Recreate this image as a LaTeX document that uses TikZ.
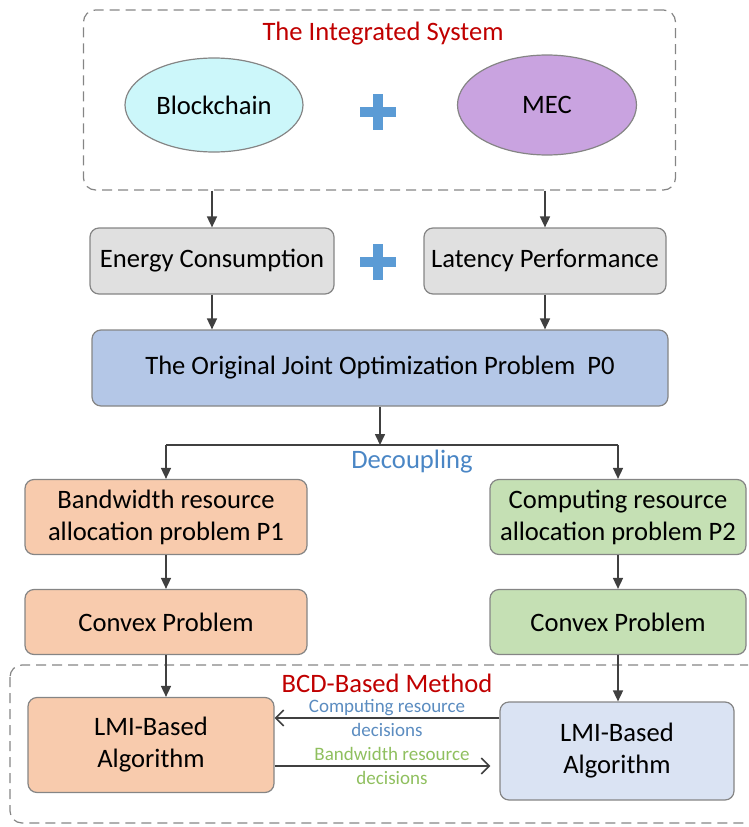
\documentclass[tikz,border=0pt]{standalone}
\usepackage{fontspec}
\setmainfont{Carlito}
\usetikzlibrary{arrows.meta,shapes.geometric}

\definecolor{edgegray}{HTML}{858585}
\definecolor{arrowgray}{HTML}{404040}
\definecolor{titlered}{HTML}{C00000}
\definecolor{plusblue}{HTML}{5B9BD5}
\definecolor{bcfill}{HTML}{CCF7FA}
\definecolor{mecfill}{HTML}{C9A3E0}
\definecolor{grayfill}{HTML}{E0E0E0}
\definecolor{pzerofill}{HTML}{B4C7E7}
\definecolor{orangefill}{HTML}{F8CBAD}
\definecolor{greenfill}{HTML}{C5E0B4}
\definecolor{lavfill}{HTML}{DAE3F3}
\definecolor{decblue}{HTML}{4A86C5}
\definecolor{compblue}{HTML}{5B8CC0}
\definecolor{bwgreen}{HTML}{8FBF5E}

\tikzset{
  bigtext/.style={font=\fontsize{26.6}{32}\selectfont},
  smalltext/.style={font=\fontsize{19}{24}\selectfont},
  label/.style={inner sep=0pt},
  box/.style={draw=edgegray, line width=1.2pt, rounded corners=9pt,
    inner sep=0pt, align=center, bigtext},
  oval/.style={ellipse, draw=edgegray, line width=1.2pt, inner sep=0pt, bigtext},
  frame/.style={draw=edgegray, line width=1.2pt, dash pattern=on 10pt off 6pt,
    rounded corners=12pt},
  arr/.style={draw=arrowgray, line width=1.6pt,
    -{Triangle[length=11pt,width=10pt]}},
  barb/.style={draw=arrowgray, line width=1.6pt,
    -{Straight Barb[length=8pt,width=16pt,line width=1.6pt]}},
  plussign/.style={draw=plusblue, line width=10pt},
}

\begin{document}
\begin{tikzpicture}[x=1pt,y=-1pt]
\useasboundingbox (0,0) rectangle (748,827);
\clip (0,0) rectangle (748,827);

% integrated system frame
\node[frame, minimum width=592pt, minimum height=180pt] (sys) at (379.5,100) {};
\node[label, bigtext, text=titlered] (systitle) at (383,34) {The Integrated System};
\node[oval, fill=bcfill, minimum width=178pt, minimum height=94pt] (bc) at (214,105) {Blockchain};
\node[oval, fill=mecfill, minimum width=179pt, minimum height=100pt] (mec) at (547,105) {MEC};
\draw[plussign] (360,112) -- (396,112) (378,94) -- (378,130);

% objectives
\node[box, fill=grayfill, minimum width=244pt, minimum height=66pt] (energy) at (212,261) {Energy Consumption};
\node[box, fill=grayfill, minimum width=242pt, minimum height=66pt] (latency) at (545,261) {Latency Performance};
\draw[plussign] (360,262) -- (396,262) (378,244) -- (378,280);

\draw[arr] (energy.north |- sys.south) -- (energy.north);
\draw[arr] (latency.north |- sys.south) -- (latency.north);

% original problem
\node[box, fill=pzerofill, minimum width=576pt, minimum height=76pt] (pzero) at (380,368) {The Original Joint Optimization Problem~~P0};
\draw[arr] (energy.south) -- (energy.south |- pzero.north);
\draw[arr] (latency.south) -- (latency.south |- pzero.north);

% decoupling into sub-problems
\node[box, fill=orangefill, minimum width=282pt, minimum height=75pt] (pone) at (166,517)
  {Bandwidth resource\\allocation problem P1};
\node[box, fill=greenfill, minimum width=256pt, minimum height=75pt] (ptwo) at (618,517)
  {Computing resource\\allocation problem P2};
\coordinate (split) at (380,445);
\draw[arr] (pzero.south) -- (split);
\draw[draw=arrowgray, line width=1.6pt] (split -| pone.north) -- (split -| ptwo.north);
\draw[arr] (split -| pone.north) -- (pone.north);
\draw[arr] (split -| ptwo.north) -- (ptwo.north);
\node[label, bigtext, text=decblue] (decoup) at (412,462) {Decoupling};

% convex reformulations
\node[box, fill=orangefill, minimum width=282pt, minimum height=65pt] (cvone) at (166,622) {Convex Problem};
\node[box, fill=greenfill, minimum width=256pt, minimum height=65pt] (cvtwo) at (618,622) {Convex Problem};
\draw[arr] (pone.south) -- (cvone.north);
\draw[arr] (ptwo.south) -- (cvtwo.north);

% BCD-based method
\draw[frame] (10,665) rectangle (764,823);
\node[label, bigtext, text=titlered] (bcdtitle) at (387,683) {BCD-Based Method};
\node[box, fill=orangefill, minimum width=246pt, minimum height=95pt] (lmione) at (151,745)
  {LMI-Based\\Algorithm};
\node[box, fill=lavfill, minimum width=234pt, minimum height=98pt] (lmitwo) at (617,751)
  {LMI-Based\\Algorithm};
\draw[arr] (cvone.south) -- (cvone.south |- lmione.north);
\draw[arr] (cvtwo.south) -- (cvtwo.south |- lmitwo.north);

\draw[barb] ([yshift=33pt]lmitwo.west) -- ([yshift=33pt]lmitwo.west -| lmione.east)
  node[label, midway, smalltext, text=compblue, align=center] {Computing resource\\decisions};
\draw[barb, shorten >=9pt] ([yshift=-21pt]lmione.east) -- ([yshift=-21pt]lmione.east -| lmitwo.west)
  node[label, pos=0.5, xshift=5pt, smalltext, text=bwgreen, align=center] {Bandwidth resource\\decisions};
\end{tikzpicture}
\end{document}
